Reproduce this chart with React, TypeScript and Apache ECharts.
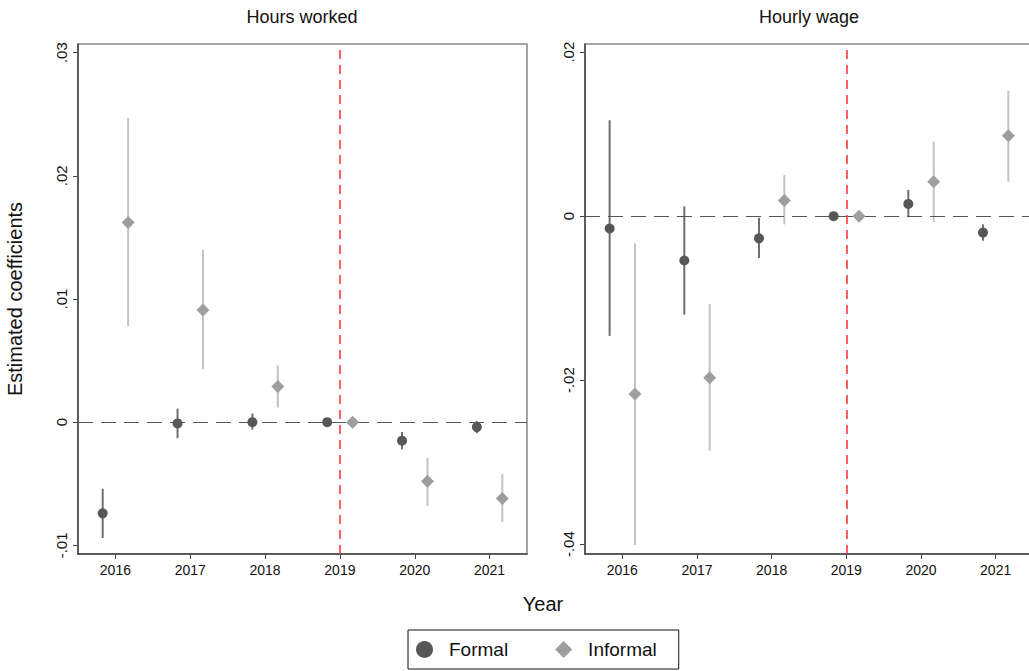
import React, { useEffect, useRef } from "react";
import * as echarts from "echarts";

const years = [2016, 2017, 2018, 2019, 2020, 2021];
const yearLabels = ["2016", "2017", "2018", "2019", "2020", "2021"];
const eventYear = 2019;

// Hours worked
const hoursFormal = [-0.0074, -0.0001, 0.0, 0, -0.0015, -0.0004];
const hoursFormalLo = [-0.0094, -0.0013, -0.0006, null, -0.0022, -0.0009];
const hoursFormalHi = [-0.0054, 0.0011, 0.0007, null, -0.0008, 0.0001];
const hoursInformal = [0.0162, 0.0091, 0.0029, 0, -0.0048, -0.0062];
const hoursInformalLo = [0.0078, 0.0043, 0.0012, null, -0.0068, -0.0081];
const hoursInformalHi = [0.0247, 0.014, 0.0046, null, -0.0029, -0.0042];

// Hourly wage
const wageFormal = [-0.0015, -0.0054, -0.0027, 0, 0.0015, -0.002];
const wageFormalLo = [-0.0146, -0.012, -0.0051, null, -0.0001, -0.003];
const wageFormalHi = [0.0117, 0.0012, -0.0002, null, 0.0032, -0.001];
const wageInformal = [-0.0217, -0.0197, 0.0019, 0, 0.0042, 0.0098];
const wageInformalLo = [-0.0401, -0.0286, -0.001, null, -0.0007, 0.0042];
const wageInformalHi = [-0.0033, -0.0107, 0.005, null, 0.0091, 0.0153];

const hoursTicks = [-0.01, 0, 0.01, 0.02, 0.03];
const wageTicks = [-0.04, -0.02, 0, 0.02];

const FONT = "'Liberation Sans', Arial, sans-serif";
const OFFSET = 0.17;
const FORMAL_COLOR = "#575757";
const FORMAL_CI = "#6e6e6e";
const INFORMAL_COLOR = "#9e9e9e";
const INFORMAL_CI = "#c2c2c2";

const fmt = (v: number) => {
  if (Math.abs(v) < 1e-9) return "0";
  const s = v.toFixed(2);
  return s.replace("0.", ".");
};

function points(vals: number[], off: number) {
  return years.map((y, i) => [y + off, vals[i]]);
}
function bars(lo: (number | null)[], hi: (number | null)[], off: number) {
  const out: number[][] = [];
  years.forEach((y, i) => {
    if (lo[i] !== null && hi[i] !== null) out.push([y + off, lo[i] as number, hi[i] as number]);
  });
  return out;
}

function errSeries(idx: number, data: number[][], color: string) {
  return {
    type: "custom",
    name: "ci" + idx + color,
    xAxisIndex: idx,
    yAxisIndex: idx,
    z: 3,
    data,
    renderItem: (_p: any, api: any) => {
      const x = api.value(0);
      const a = api.coord([x, api.value(1)]);
      const b = api.coord([x, api.value(2)]);
      return {
        type: "line",
        shape: { x1: a[0], y1: a[1], x2: b[0], y2: b[1] },
        style: { stroke: color, lineWidth: 2 },
      };
    },
  };
}

export default function App() {
  const ref = useRef<HTMLDivElement>(null);
  useEffect(() => {
    if (!ref.current) return;
    const chart = echarts.init(ref.current, undefined, { renderer: "svg" });
    const xAxisBase = (idx: number) => ({
      type: "value",
      gridIndex: idx,
      min: 2015.5,
      max: 2021.5,
      splitLine: { show: false },
      axisLine: { show: true, onZero: false, lineStyle: { color: "#444", width: 1.5 } },
      axisTick: { show: true, customValues: years, length: 5, lineStyle: { color: "#444" } },
      axisLabel: {
        customValues: years,
        formatter: (v: number) => yearLabels[years.indexOf(Math.round(v))] ?? "",
        fontSize: 14,
        color: "#111",
        margin: 9,
        fontFamily: FONT,
      },
    });
    const yAxisBase = (idx: number, min: number, max: number, ticks: number[], name: string) => ({
      type: "value",
      gridIndex: idx,
      min,
      max,
      name,
      nameLocation: "middle",
      nameGap: 53,
      nameRotate: 90,
      nameTextStyle: { fontSize: 20, color: "#111", fontFamily: FONT },
      splitLine: { show: false },
      axisLine: { show: true, onZero: false, lineStyle: { color: "#444", width: 1.5 } },
      axisTick: { show: true, customValues: ticks, length: 5, lineStyle: { color: "#444" } },
      axisLabel: {
        customValues: ticks,
        formatter: fmt,
        rotate: 90,
        fontSize: 15,
        color: "#111",
        margin: 9,
        fontFamily: FONT,
      },
    });
    const refLines = (idx: number) => ({
      type: "scatter",
      xAxisIndex: idx,
      yAxisIndex: idx,
      data: [],
      silent: true,
      z: 1,
      markLine: {
        silent: true,
        symbol: "none",
        label: { show: false },
        animation: false,
        data: [
          { yAxis: 0, lineStyle: { color: "#555", type: [15, 8], width: 1.2 } },
          { xAxis: eventYear, lineStyle: { color: "#ff3b3b", type: [9, 6], width: 1.6 } },
        ],
      },
    });
    const scat = (idx: number, name: string, data: number[][], symbol: string, size: number, color: string) => ({
      type: "scatter",
      name,
      xAxisIndex: idx,
      yAxisIndex: idx,
      symbol,
      symbolSize: size,
      z: 5,
      itemStyle: { color, opacity: 1 },
      data,
    });
    const option: any = {
      animation: false,
      textStyle: { fontFamily: FONT },
      grid: [
        { left: 78, width: 449, top: 44, bottom: 117, show: true, borderColor: "#888", borderWidth: 1.5, containLabel: false, outerBoundsMode: "none" },
        { left: 585, width: 448, top: 44, bottom: 117, show: true, borderColor: "#888", borderWidth: 1.5, containLabel: false, outerBoundsMode: "none" },
      ],
      xAxis: [xAxisBase(0), xAxisBase(1)],
      yAxis: [
        yAxisBase(0, -0.0107, 0.0307, hoursTicks, "Estimated coefficients"),
        yAxisBase(1, -0.0412, 0.021, wageTicks, ""),
      ],
      legend: {
        data: [
          { name: "Formal", icon: "circle" },
          { name: "Informal", icon: "diamond" },
        ],
        left: 408,
        top: 630,
        orient: "horizontal",
        borderColor: "#111",
        borderWidth: 1,
        padding: [10, 22, 10, 8],
        itemWidth: 17,
        itemHeight: 17,
        itemGap: 47,
        selectedMode: false,
        textStyle: { fontSize: 19, color: "#111", fontFamily: FONT, padding: [0, 0, 0, 11] },
      },
      graphic: [
        { type: "text", x: 302, y: 17, style: { text: "Hours worked", font: `18px ${FONT}`, fill: "#111", textAlign: "center", textVerticalAlign: "middle" } },
        { type: "text", x: 809, y: 17, style: { text: "Hourly wage", font: `18px ${FONT}`, fill: "#111", textAlign: "center", textVerticalAlign: "middle" } },
        { type: "text", x: 543, y: 604, style: { text: "Year", font: `20px ${FONT}`, fill: "#111", textAlign: "center", textVerticalAlign: "middle" } },
      ],
      series: [
        refLines(0),
        refLines(1),
        errSeries(0, bars(hoursFormalLo, hoursFormalHi, -OFFSET), FORMAL_CI),
        errSeries(0, bars(hoursInformalLo, hoursInformalHi, OFFSET), INFORMAL_CI),
        errSeries(1, bars(wageFormalLo, wageFormalHi, -OFFSET), FORMAL_CI),
        errSeries(1, bars(wageInformalLo, wageInformalHi, OFFSET), INFORMAL_CI),
        scat(0, "Formal", points(hoursFormal, -OFFSET), "circle", 10, FORMAL_COLOR),
        scat(0, "Informal", points(hoursInformal, OFFSET), "diamond", 13, INFORMAL_COLOR),
        scat(1, "Formal", points(wageFormal, -OFFSET), "circle", 10, FORMAL_COLOR),
        scat(1, "Informal", points(wageInformal, OFFSET), "diamond", 13, INFORMAL_COLOR),
      ],
    };
    chart.setOption(option);
    return () => chart.dispose();
  }, []);
  return (
    <div
      ref={ref}
      style={{ position: "fixed", left: 0, top: 0, width: 1029, height: 671, background: "#fff" }}
    />
  );
}
